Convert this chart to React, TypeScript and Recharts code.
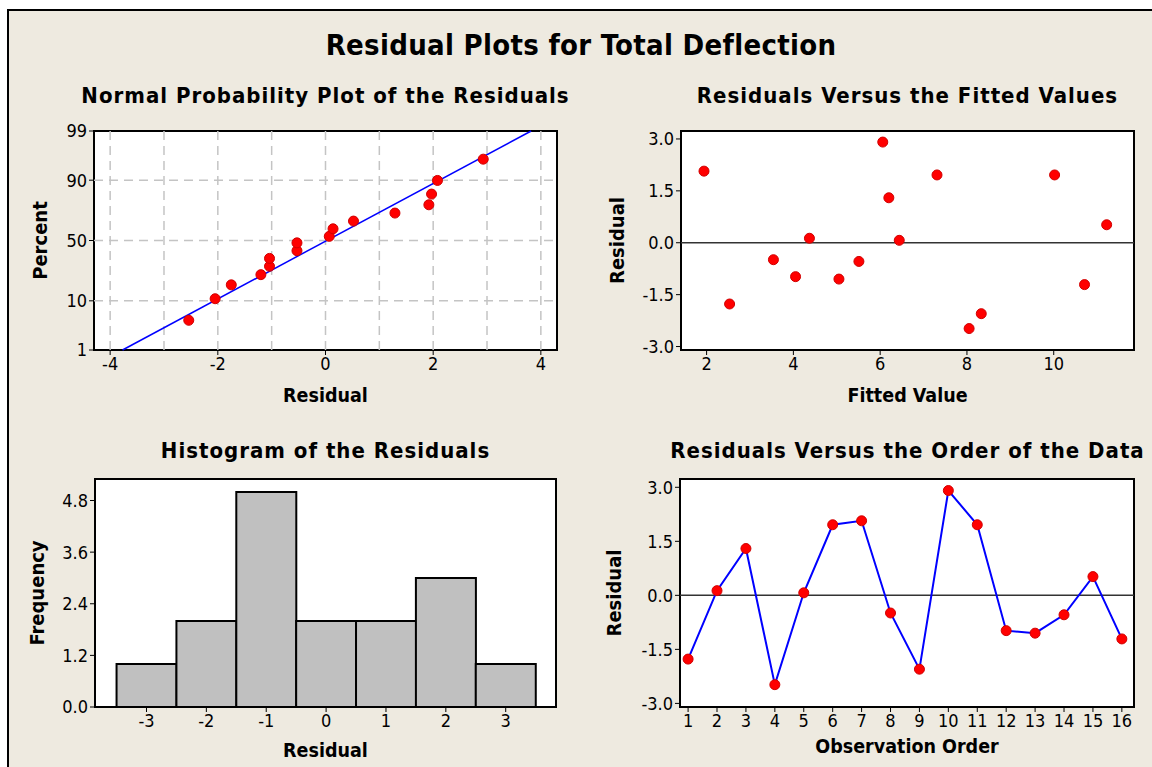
import React from "react";
import {
  ComposedChart,
  ScatterChart,
  LineChart,
  BarChart,
  Scatter,
  Line,
  Bar,
  XAxis,
  YAxis,
  CartesianGrid,
  ReferenceLine,
  ReferenceArea,
} from "recharts";

// normal probability plot: sorted residuals and their plotting percents
const probResiduals = [-2.54, -2.05, -1.75, -1.2, -1.04, -1.04, -0.53, -0.53, 0.07, 0.14, 0.52, 1.29, 1.92, 1.97, 2.08, 2.93];
const probPercents = [4.5, 10.8, 17.3, 23.4, 29.2, 35.2, 41.4, 48, 53.5, 59.8, 66, 72, 77.6, 83.8, 89.9, 95.8];
const fitResiduals = [-3.77, 3.82];
const fitPercents = [1, 99];
const pctTicks = [1, 10, 50, 90, 99];
const pctGrid = [10, 50, 90];
const probXTicks = [-4, -2, 0, 2, 4];
const probXGrid = [-4, -3, -2, -1, 0, 1, 2, 3, 4];

// residuals in observation order, with their fitted values
const observations = [1, 2, 3, 4, 5, 6, 7, 8, 9, 10, 11, 12, 13, 14, 15, 16];
const residuals = [-1.77, 0.13, 1.3, -2.48, 0.07, 1.96, 2.07, -0.49, -2.05, 2.91, 1.96, -0.98, -1.05, -0.54, 0.52, -1.21];
const fittedValues = [2.53, 4.37, 6.2, 8.05, 6.44, 7.31, 1.94, 3.54, 8.33, 6.06, 10.02, 4.05, 5.05, 5.51, 11.22, 10.71];
const residTicks = [-3, -1.5, 0, 1.5, 3];
const fittedTicks = [2, 4, 6, 8, 10];

// histogram
const binCenters = [-3, -2, -1, 0, 1, 2, 3];
const binCounts = [1, 2, 5, 2, 2, 3, 1];
const freqTicks = [0, 1.2, 2.4, 3.6, 4.8];

const FONT = "'DejaVu Sans', 'Noto Sans', sans-serif";
const BG = "#eeeae0";
const RED = "#ff0000";
const BLUE = "#0000ff";

// inverse standard normal (Acklam), used as the probability scale
function probit(p: number): number {
  const a = [-39.69683028665376, 220.9460984245205, -275.9285104469687, 138.357751867269, -30.66479806614716, 2.506628277459239];
  const b = [-54.47609879822406, 161.5858368580409, -155.6989798598866, 66.80131188771972, -13.28068155288572];
  const c = [-0.007784894002430293, -0.3223964580411365, -2.400758277161838, -2.549732539343734, 4.374664141464968, 2.938163982698783];
  const d = [0.007784695709041462, 0.3224671290700398, 2.445134137142996, 3.754408661907416];
  const pl = 0.02425;
  if (p < pl) {
    const q = Math.sqrt(-2 * Math.log(p));
    return (((((c[0] * q + c[1]) * q + c[2]) * q + c[3]) * q + c[4]) * q + c[5]) / ((((d[0] * q + d[1]) * q + d[2]) * q + d[3]) * q + 1);
  }
  if (p > 1 - pl) return -probit(1 - p);
  const q = p - 0.5;
  const r = q * q;
  return ((((((a[0] * r + a[1]) * r + a[2]) * r + a[3]) * r + a[4]) * r + a[5]) * q) / (((((b[0] * r + b[1]) * r + b[2]) * r + b[3]) * r + b[4]) * r + 1);
}

const zTicks = pctTicks.map((p) => probit(p / 100));
const zDomain: [number, number] = [probit(0.01), probit(0.99)];
const probPoints = probResiduals.map((r, i) => ({ x: r, z: probit(probPercents[i] / 100) }));
const fitPoints = fitResiduals.map((r, i) => ({ x: r, z: probit(fitPercents[i] / 100) }));
const orderData = observations.map((o, i) => ({ obs: o, resid: residuals[i] }));
const fittedData = fittedValues.map((f, i) => ({ fit: f, resid: residuals[i] }));
const histData = binCenters.map((b, i) => ({ bin: b, count: binCounts[i] }));

const tickStyle = { fill: "#000", fontSize: 18, fontFamily: FONT, fontStretch: "condensed" as const };
const labelStyle = { fill: "#000", fontSize: 19.5, fontWeight: 700, fontFamily: FONT, fontStretch: "condensed" as const };
const yLabel = (value: string, offset: number) => ({
  value,
  angle: -90,
  position: "insideLeft" as const,
  offset,
  style: { ...labelStyle, fontSize: 20, textAnchor: "middle" as const },
});
const xLabel = (value: string, offset: number) => ({
  value,
  position: "insideBottom" as const,
  offset,
  style: labelStyle,
});
const fmt1 = (v: number) => v.toFixed(1);

const RedDot = (props: any) => {
  const { cx, cy } = props;
  if (cx == null || cy == null) return null;
  return <circle cx={cx} cy={cy} r={5} fill={RED} stroke="#d00000" strokeWidth={1} />;
};

const Title = ({ text, left, top, width, size, spacing }: { text: string; left: number; top: number; width: number; size: number; spacing: number }) => (
  <div
    style={{
      position: "absolute",
      left,
      top,
      width,
      textAlign: "center",
      fontFamily: FONT,
      fontStretch: "condensed",
      fontWeight: 700,
      fontSize: size,
      lineHeight: `${size + 6}px`,
      color: "#000",
      letterSpacing: spacing,
      whiteSpace: "nowrap",
    }}
  >
    {text}
  </div>
);

export default function App() {
  return (
    <div style={{ position: "absolute", left: 0, top: 0, width: 1152, height: 767, background: "#fff", overflow: "hidden" }}>
      <div
        style={{
          position: "absolute",
          left: 7,
          top: 9,
          width: 1152,
          height: 767,
          background: BG,
          borderLeft: "2px solid #000",
          borderTop: "2px solid #000",
        }}
      />
      <Title text="Residual Plots for Total Deflection" left={0} top={28} width={1162} size={29} spacing={0.3} />
      <Title text="Normal Probability Plot of the Residuals" left={0} top={82} width={651} size={22} spacing={1} />
      <Title text="Residuals Versus the Fitted Values" left={580} top={82} width={655} size={22} spacing={1} />
      <Title text="Histogram of the Residuals" left={0} top={437} width={651} size={22} spacing={1} />
      <Title text="Residuals Versus the Order of the Data" left={580} top={437} width={655} size={22} spacing={1} />

      {/* normal probability plot */}
      <div style={{ position: "absolute", left: 0, top: 110 }}>
        <ComposedChart width={580} height={300} margin={{ top: 21, right: 23, left: 0, bottom: 0 }}>
          <CartesianGrid fill="#fff" horizontal={false} vertical={false} />
          <XAxis
            type="number"
            dataKey="x"
            domain={[-4.3, 4.3]}
            ticks={probXTicks}
            tick={tickStyle}
            tickSize={5}
            tickMargin={2}
            height={60}
            axisLine={false}
            tickLine={{ stroke: "#000" }}
            label={xLabel("Residual", 8)}
          />
          <YAxis
            type="number"
            dataKey="z"
            domain={zDomain}
            ticks={zTicks}
            tickFormatter={(v: number) => String(pctTicks[zTicks.findIndex((z) => Math.abs(z - v) < 1e-6)] ?? "")}
            tick={tickStyle}
            tickSize={5}
            tickMargin={2}
            width={94}
            axisLine={false}
            tickLine={{ stroke: "#000" }}
            label={yLabel("Percent", 40)}
          />
          {probXGrid.map((g) => (
            <ReferenceLine key={`gx${g}`} x={g} stroke="#c4c4c4" strokeWidth={1.5} strokeDasharray="9 6" />
          ))}
          {pctGrid.map((p) => (
            <ReferenceLine key={`gy${p}`} y={probit(p / 100)} stroke="#c4c4c4" strokeWidth={1.5} strokeDasharray="9 6" />
          ))}
          <Line data={fitPoints} dataKey="z" type="linear" stroke={BLUE} strokeWidth={1.5} dot={false} isAnimationActive={false} />
          <Scatter data={probPoints} dataKey="z" shape={<RedDot />} isAnimationActive={false} />
          <ReferenceArea x1={-4.3} x2={4.3} y1={zDomain[0]} y2={zDomain[1]} fill="none" stroke="#000" strokeWidth={2} />
        </ComposedChart>
      </div>

      {/* residuals vs fitted */}
      <div style={{ position: "absolute", left: 580, top: 110 }}>
        <ScatterChart width={572} height={300} margin={{ top: 21, right: 18, left: 0, bottom: 0 }}>
          <CartesianGrid fill="#fff" horizontal={false} vertical={false} />
          <XAxis
            type="number"
            dataKey="fit"
            domain={[1.41, 11.85]}
            ticks={fittedTicks}
            tick={tickStyle}
            tickSize={5}
            tickMargin={2}
            height={60}
            axisLine={false}
            tickLine={{ stroke: "#000" }}
            label={xLabel("Fitted Value", 8)}
          />
          <YAxis
            type="number"
            dataKey="resid"
            domain={[-3.1, 3.23]}
            ticks={residTicks}
            tickFormatter={fmt1}
            tick={tickStyle}
            tickSize={5}
            tickMargin={2}
            width={101}
            axisLine={false}
            tickLine={{ stroke: "#000" }}
            label={yLabel("Residual", 37)}
          />
          <ReferenceLine y={0} stroke="#333" strokeWidth={1.5} />
          <Scatter data={fittedData} shape={<RedDot />} isAnimationActive={false} />
          <ReferenceArea x1={1.41} x2={11.85} y1={-3.1} y2={3.23} fill="none" stroke="#000" strokeWidth={2} />
        </ScatterChart>
      </div>

      {/* histogram */}
      <div style={{ position: "absolute", left: 0, top: 460 }}>
        <BarChart width={580} height={307} data={histData} barCategoryGap={0} barGap={0} margin={{ top: 19, right: 24, left: 0, bottom: 0 }}>
          <CartesianGrid fill="#fff" horizontal={false} vertical={false} />
          <XAxis
            type="number"
            dataKey="bin"
            domain={[-3.86, 3.84]}
            ticks={binCenters}
            tick={tickStyle}
            tickSize={5}
            tickMargin={2}
            height={60}
            axisLine={false}
            tickLine={{ stroke: "#000" }}
            label={xLabel("Residual", 10)}
          />
          <YAxis
            type="number"
            domain={[0, 5.3]}
            ticks={freqTicks}
            tickFormatter={fmt1}
            tick={tickStyle}
            tickSize={5}
            tickMargin={2}
            width={95}
            axisLine={false}
            tickLine={{ stroke: "#000" }}
            label={yLabel("Frequency", 37)}
          />
          <Bar dataKey="count" fill="#c0c0c0" stroke="#000" strokeWidth={2} isAnimationActive={false} />
          <ReferenceArea x1={-3.86} x2={3.84} y1={0} y2={5.3} fill="none" stroke="#000" strokeWidth={2} />
        </BarChart>
      </div>

      {/* residuals vs order */}
      <div style={{ position: "absolute", left: 580, top: 460 }}>
        <LineChart width={572} height={307} data={orderData} margin={{ top: 19, right: 18, left: 0, bottom: 0 }}>
          <CartesianGrid fill="#fff" horizontal={false} vertical={false} />
          <XAxis
            type="number"
            dataKey="obs"
            domain={[0.72, 16.42]}
            ticks={observations}
            tick={tickStyle}
            tickSize={5}
            tickMargin={2}
            height={60}
            axisLine={false}
            tickLine={{ stroke: "#000" }}
            interval={0}
            label={xLabel("Observation Order", 14)}
          />
          <YAxis
            type="number"
            domain={[-3.1, 3.23]}
            ticks={residTicks}
            tickFormatter={fmt1}
            tick={tickStyle}
            tickSize={5}
            tickMargin={2}
            width={100}
            axisLine={false}
            tickLine={{ stroke: "#000" }}
            label={yLabel("Residual", 34)}
          />
          <ReferenceLine y={0} stroke="#333" strokeWidth={1.5} />
          <Line dataKey="resid" type="linear" stroke={BLUE} strokeWidth={2} dot={<RedDot />} isAnimationActive={false} />
          <ReferenceArea x1={0.72} x2={16.42} y1={-3.1} y2={3.23} fill="none" stroke="#000" strokeWidth={2} />
        </LineChart>
      </div>
    </div>
  );
}
